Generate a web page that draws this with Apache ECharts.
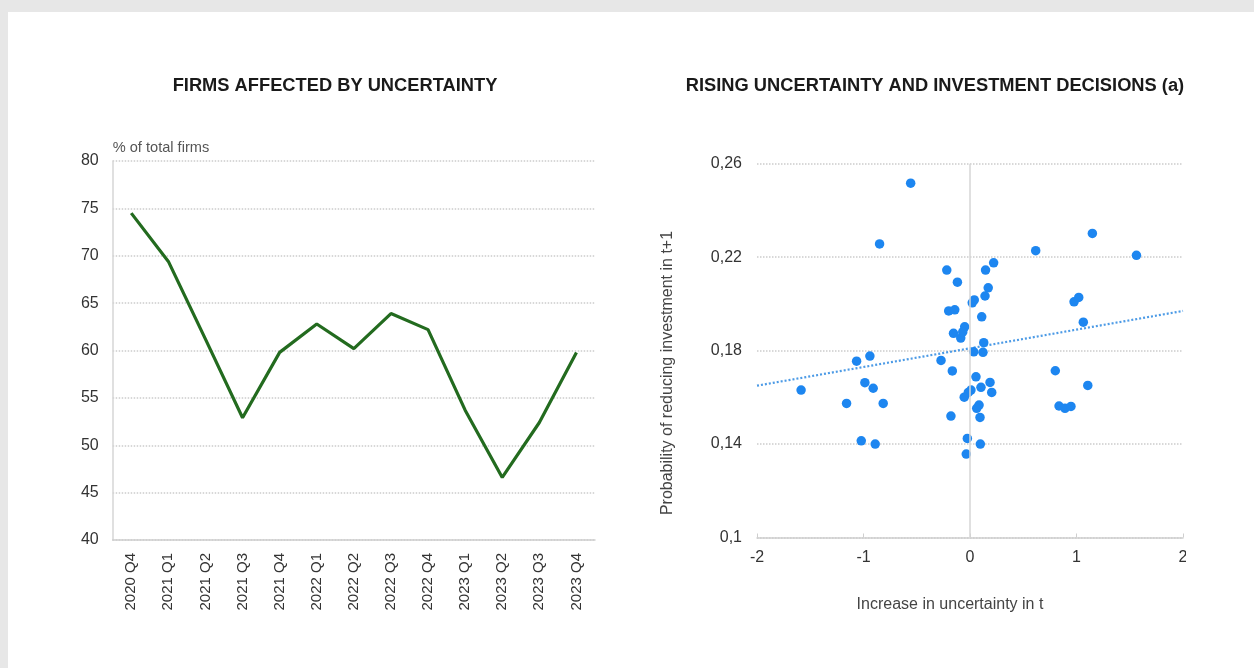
<!DOCTYPE html>
<html>
<head>
<meta charset="utf-8">
<script src="https://cdn.jsdelivr.net/npm/echarts@6/dist/echarts.min.js"></script>
<style>
  html, body { margin: 0; padding: 0; width: 1254px; height: 668px; background: #e7e7e7; overflow: hidden; }
  #card { position: absolute; left: 8px; top: 12px; width: 1246px; height: 656px; background: #ffffff; }
  #chart { position: absolute; left: 0; top: 0; width: 1186px; height: 668px; overflow: hidden; }
</style>
</head>
<body>
<div id="card"></div>
<div id="chart"></div>
<script>
// ---- Left chart data ----
const quarters = ['2020 Q4', '2021 Q1', '2021 Q2', '2021 Q3', '2021 Q4', '2022 Q1', '2022 Q2', '2022 Q3', '2022 Q4', '2023 Q1', '2023 Q2', '2023 Q3', '2023 Q4'];
const firmsAffected = [74.5, 69.4, 61.2, 52.9, 59.8, 62.8, 60.2, 63.9, 62.2, 53.7, 46.6, 52.4, 59.8];

// ---- Right chart data ----
const uncertaintyIncrease = [
  -0.557, -0.849, -0.218, -0.118, -0.200, -0.143, -0.155, -0.050, -0.087, -0.068,
  0.040, 0.021, 0.146, 0.222, 0.171, 0.141, 0.110, 0.129, 0.035, 0.122,
  -0.272, -0.166, 0.056, 0.188, 0.103, 0.204, 0.009, -0.016, -0.054, 0.085,
  0.063, 0.094, -0.179, -0.025, 0.097, -0.035, -1.065, -0.940, -1.586, -0.987,
  -0.909, -1.159, -0.815, -1.021, -0.890, 0.617, 1.149, 1.563, 0.977, 1.021,
  1.064, 0.801, 1.106, 0.836, 0.892, 0.948
];
const reduceProbability = [
  0.2517, 0.2257, 0.2145, 0.2093, 0.1970, 0.1975, 0.1874, 0.1902, 0.1854, 0.1880,
  0.2017, 0.2005, 0.2145, 0.2176, 0.2069, 0.2034, 0.1945, 0.1834, 0.1795, 0.1793,
  0.1758, 0.1713, 0.1688, 0.1664, 0.1643, 0.1621, 0.1631, 0.1621, 0.1601, 0.1567,
  0.1553, 0.1514, 0.1520, 0.1424, 0.1400, 0.1357, 0.1755, 0.1777, 0.1631, 0.1663,
  0.1639, 0.1574, 0.1574, 0.1414, 0.1400, 0.2228, 0.2302, 0.2208, 0.2009, 0.2028,
  0.1922, 0.1714, 0.1651, 0.1563, 0.1553, 0.1561
];
const trendX = [-2, 2];
const trendY = [0.1650, 0.1970];

const titleLeft = 'FIRMS AFFECTED BY UNCERTAINTY';
const titleRight = 'RISING UNCERTAINTY AND INVESTMENT DECISIONS (a)';
const leftUnit = '% of total firms';
const rightYName = 'Probability of reducing investment in t+1';
const rightXName = 'Increase in uncertainty in t';

const FONT = '"Liberation Sans", Arial, Helvetica, sans-serif';
const scatterData = uncertaintyIncrease.map((x, i) => [x, reduceProbability[i]]);
const trendData = trendX.map((x, i) => [x, trendY[i]]);

const chart = echarts.init(document.getElementById('chart'), null, { renderer: 'canvas' });
chart.setOption({
  animation: false,
  textStyle: { fontFamily: FONT },
  title: [
    { text: titleLeft, left: 335, top: 77, textAlign: 'center', padding: 0,
      textStyle: { fontFamily: FONT, fontSize: 18.3, fontWeight: 'bold', color: '#1a1a1a' } },
    { text: titleRight, left: 935, top: 77, textAlign: 'center', padding: 0,
      textStyle: { fontFamily: FONT, fontSize: 18.3, fontWeight: 'bold', color: '#1a1a1a' } }
  ],
  grid: [
    { left: 112.7, top: 161, width: 482.3, height: 379, containLabel: false, outerBoundsMode: 'none' },
    { left: 757, top: 163.8, width: 426, height: 373.7, containLabel: false, outerBoundsMode: 'none' }
  ],
  xAxis: [
    { gridIndex: 0, type: 'category', data: quarters, boundaryGap: true,
      axisLine: { lineStyle: { color: '#cfcfcf', width: 1.5 } },
      axisTick: { inside: true, length: 4, lineStyle: { color: '#cfcfcf' } },
      axisLabel: { rotate: 90, fontSize: 15, color: '#333', margin: 13, fontFamily: FONT },
      splitLine: { show: false } },
    { gridIndex: 1, type: 'value', min: -2, max: 2, interval: 1,
      axisLine: { onZero: false, lineStyle: { color: '#cfcfcf', width: 1.5 } },
      axisTick: { inside: true, length: 4, lineStyle: { color: '#cfcfcf' } },
      axisLabel: { fontSize: 16, color: '#333', margin: 12, fontFamily: FONT },
      splitLine: { show: false } }
  ],
  yAxis: [
    { gridIndex: 0, type: 'value', min: 40, max: 80, interval: 5,
      name: leftUnit, nameLocation: 'end', nameGap: 6,
      nameTextStyle: { align: 'left', fontSize: 14.6, color: '#555', fontFamily: FONT },
      axisLine: { show: true, lineStyle: { color: '#d6d6d6', width: 1.5 } },
      axisTick: { show: false },
      axisLabel: { fontSize: 16, color: '#333', margin: 14, fontFamily: FONT },
      splitLine: { show: true, lineStyle: { color: '#cccccc', type: 'dotted', width: 1.5 } } },
    { gridIndex: 1, type: 'value', min: 0.1, max: 0.26, interval: 0.04,
      axisLine: { show: false },
      axisTick: { show: false },
      axisLabel: { fontSize: 16, color: '#333', margin: 15, fontFamily: FONT,
        formatter: v => String(Math.round(v * 100) / 100).replace('.', ',') },
      splitLine: { show: true, lineStyle: { color: '#cccccc', type: 'dotted', width: 1.5 } } }
  ],
  series: [
    { type: 'line', xAxisIndex: 0, yAxisIndex: 0, data: firmsAffected,
      symbol: 'none', lineStyle: { color: '#236b1f', width: 3.2 }, z: 3 },
    { type: 'line', xAxisIndex: 1, yAxisIndex: 1, data: trendData,
      symbol: 'none', lineStyle: { color: '#4d9be6', width: 2.2, type: [2, 2] }, z: 2,
      markLine: { silent: true, symbol: 'none', label: { show: false },
        lineStyle: { color: '#d6d6d6', type: 'solid', width: 1.5 },
        data: [{ xAxis: 0 }] } },
    { type: 'scatter', xAxisIndex: 1, yAxisIndex: 1, data: scatterData,
      symbol: 'circle', symbolSize: 9.5, itemStyle: { color: '#1d86f0', opacity: 1 }, z: 4 }
  ],
  graphic: [
    { type: 'text', x: 668, y: 373, rotation: Math.PI / 2,
      style: { text: rightYName, fontSize: 16, fill: '#444', fontFamily: FONT,
        textAlign: 'center', textVerticalAlign: 'middle' } },
    { type: 'text', x: 950, y: 605,
      style: { text: rightXName, fontSize: 16, fill: '#444', fontFamily: FONT,
        textAlign: 'center', textVerticalAlign: 'middle' } }
  ]
});
</script>
</body>
</html>
